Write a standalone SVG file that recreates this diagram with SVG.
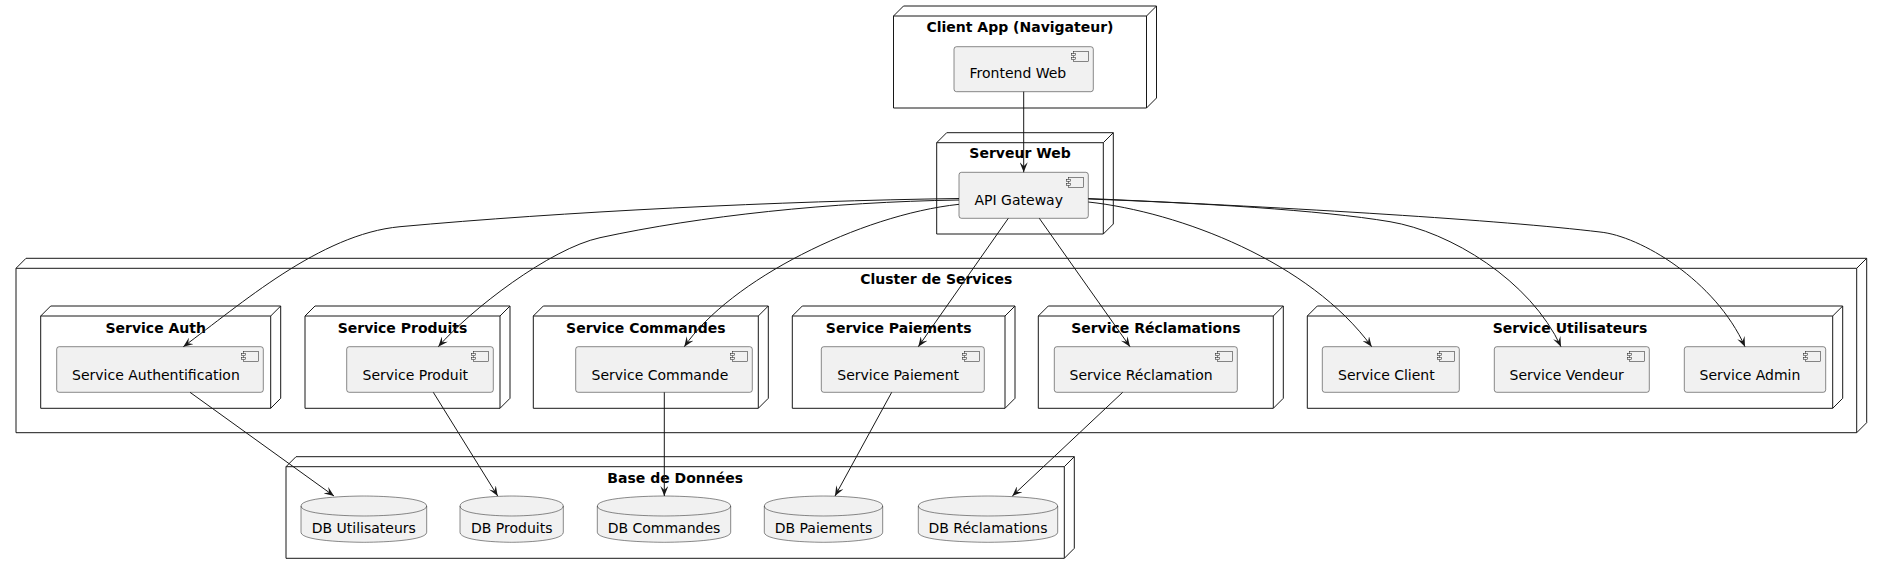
<svg xmlns="http://www.w3.org/2000/svg" width="1882" height="574" viewBox="0 0 1882 574">
<style>
.nd{fill:none;stroke:#181818;stroke-width:1}
.cmp{fill:#F1F1F1;stroke:#181818;stroke-width:0.5}
.ico{fill:#F1F1F1;stroke:#181818;stroke-width:0.5}
.t{font-family:"DejaVu Sans",sans-serif;font-size:14px;fill:#000}
.tb{font-family:"DejaVu Sans",sans-serif;font-size:14px;font-weight:bold;fill:#000;text-anchor:middle}
.tm{text-anchor:middle}
.ln{fill:none;stroke:#181818;stroke-width:1;marker-end:url(#ah)}
</style>
<defs>
<marker id="ah" viewBox="0 0 10 8" refX="10" refY="4" markerWidth="10" markerHeight="8" markerUnits="userSpaceOnUse" orient="auto">
<path d="M0,0 L10,4 L0,8 L4,4 Z" fill="#181818"/>
</marker>
<g id="icon">
<rect x="-20" y="5" width="15" height="10" class="ico"/>
<rect x="-22" y="7" width="4" height="2" class="ico"/>
<rect x="-22" y="11" width="4" height="2" class="ico"/>
</g>
</defs>
<rect width="1882" height="574" fill="#fff"/>

<g id="node-client">
<path class="nd" d="M893.5,16 L903.5,6 L1156.5,6 L1156.5,98 L1146.5,108 L893.5,108 Z M1146.5,16 L1156.5,6 M893.5,16 L1146.5,16 L1146.5,108"/>
<text class="tb" x="1020" y="32">Client App (Navigateur)</text>
</g>
<g id="frontend">
<rect class="cmp" x="954" y="46.7" width="139.3" height="45" rx="2.5"/>
<use href="#icon" x="1093.3" y="46.7"/>
<text class="t" x="969.5" y="78.3">Frontend Web</text>
</g>

<g id="node-serveur">
<path class="nd" d="M936.7,142.7 L946.7,132.7 L1113.3,132.7 L1113.3,224 L1103.3,234 L936.7,234 Z M1103.3,142.7 L1113.3,132.7 M936.7,142.7 L1103.3,142.7 L1103.3,234"/>
<text class="tb" x="1020" y="157.7">Serveur Web</text>
</g>
<g id="api">
<rect class="cmp" x="959" y="172.3" width="129.3" height="46" rx="2.5"/>
<use href="#icon" x="1088.3" y="172.3"/>
<text class="t" x="974.5" y="205">API Gateway</text>
</g>

<g id="node-cluster">
<path class="nd" d="M16,268.3 L26,258.3 L1866.7,258.3 L1866.7,422.7 L1856.7,432.7 L16,432.7 Z M1856.7,268.3 L1866.7,258.3 M16,268.3 L1856.7,268.3 L1856.7,432.7"/>
<text class="tb" x="936.3" y="284.3">Cluster de Services</text>
</g>

<g id="node-auth">
<path class="nd" d="M40.7,316 L50.7,306 L280.7,306 L280.7,398.3 L270.7,408.3 L40.7,408.3 Z M270.7,316 L280.7,306 M40.7,316 L270.7,316 L270.7,408.3"/>
<text class="tb" x="155.7" y="333.3">Service Auth</text>
</g>
<g id="svc-auth">
<rect class="cmp" x="56.7" y="346.7" width="206.6" height="45.6" rx="2.5"/>
<use href="#icon" x="263.3" y="346.7"/>
<text class="t" x="72" y="380">Service Authentification</text>
</g>

<g id="node-produits">
<path class="nd" d="M305,316 L315,306 L510,306 L510,398.3 L500,408.3 L305,408.3 Z M500,316 L510,306 M305,316 L500,316 L500,408.3"/>
<text class="tb" x="402.5" y="333.3">Service Produits</text>
</g>
<g id="svc-produit">
<rect class="cmp" x="346.7" y="346.7" width="146.6" height="45.6" rx="2.5"/>
<use href="#icon" x="493.3" y="346.7"/>
<text class="t" x="362.5" y="380">Service Produit</text>
</g>

<g id="node-commandes">
<path class="nd" d="M533.3,316 L543.3,306 L768.3,306 L768.3,398.3 L758.3,408.3 L533.3,408.3 Z M758.3,316 L768.3,306 M533.3,316 L758.3,316 L758.3,408.3"/>
<text class="tb" x="645.8" y="333.3">Service Commandes</text>
</g>
<g id="svc-commande">
<rect class="cmp" x="575.7" y="346.7" width="176.6" height="45.6" rx="2.5"/>
<use href="#icon" x="752.3" y="346.7"/>
<text class="t" x="591.5" y="380">Service Commande</text>
</g>

<g id="node-paiements">
<path class="nd" d="M792.3,316 L802.3,306 L1015,306 L1015,398.3 L1005,408.3 L792.3,408.3 Z M1005,316 L1015,306 M792.3,316 L1005,316 L1005,408.3"/>
<text class="tb" x="898.7" y="333.3">Service Paiements</text>
</g>
<g id="svc-paiement">
<rect class="cmp" x="821.3" y="346.7" width="163" height="45.6" rx="2.5"/>
<use href="#icon" x="984.3" y="346.7"/>
<text class="t" x="837.3" y="380">Service Paiement</text>
</g>

<g id="node-reclamations">
<path class="nd" d="M1038.3,316 L1048.3,306 L1283.3,306 L1283.3,398.3 L1273.3,408.3 L1038.3,408.3 Z M1273.3,316 L1283.3,306 M1038.3,316 L1273.3,316 L1273.3,408.3"/>
<text class="tb" x="1155.8" y="333.3">Service Réclamations</text>
</g>
<g id="svc-reclamation">
<rect class="cmp" x="1054.3" y="346.7" width="183" height="45.6" rx="2.5"/>
<use href="#icon" x="1237.3" y="346.7"/>
<text class="t" x="1069.5" y="380">Service Réclamation</text>
</g>

<g id="node-utilisateurs">
<path class="nd" d="M1307.3,316 L1317.3,306 L1842.7,306 L1842.7,398.3 L1832.7,408.3 L1307.3,408.3 Z M1832.7,316 L1842.7,306 M1307.3,316 L1832.7,316 L1832.7,408.3"/>
<text class="tb" x="1570" y="333.3">Service Utilisateurs</text>
</g>
<g id="svc-client">
<rect class="cmp" x="1322.3" y="346.7" width="137" height="45.6" rx="2.5"/>
<use href="#icon" x="1459.3" y="346.7"/>
<text class="t" x="1338" y="380">Service Client</text>
</g>
<g id="svc-vendeur">
<rect class="cmp" x="1494.3" y="346.7" width="155" height="45.6" rx="2.5"/>
<use href="#icon" x="1649.3" y="346.7"/>
<text class="t" x="1509.5" y="380">Service Vendeur</text>
</g>
<g id="svc-admin">
<rect class="cmp" x="1684.3" y="346.7" width="141.4" height="45.6" rx="2.5"/>
<use href="#icon" x="1825.7" y="346.7"/>
<text class="t" x="1699.5" y="380">Service Admin</text>
</g>

<g id="node-bdd">
<path class="nd" d="M286,466.7 L296,456.7 L1074.3,456.7 L1074.3,548.3 L1064.3,558.3 L286,558.3 Z M1064.3,466.7 L1074.3,456.7 M286,466.7 L1064.3,466.7 L1064.3,558.3"/>
<text class="tb" x="675.2" y="482.7">Base de Données</text>
</g>
<g id="db-utilisateurs">
<path class="cmp" d="M301,506 C301,496 363.8,496 363.8,496 C363.8,496 426.7,496 426.7,506 L426.7,532.3 C426.7,542.3 363.8,542.3 363.8,542.3 C363.8,542.3 301,542.3 301,532.3 Z"/>
<path class="cmp" fill="none" style="fill:none" d="M301,506 C301,516 363.8,516 363.8,516 C363.8,516 426.7,516 426.7,506"/>
<text class="t tm" x="363.8" y="533.3">DB Utilisateurs</text>
</g>
<g id="db-produits">
<path class="cmp" d="M460,506 C460,496 511.7,496 511.7,496 C511.7,496 563.3,496 563.3,506 L563.3,532.3 C563.3,542.3 511.7,542.3 511.7,542.3 C511.7,542.3 460,542.3 460,532.3 Z"/>
<path class="cmp" style="fill:none" d="M460,506 C460,516 511.7,516 511.7,516 C511.7,516 563.3,516 563.3,506"/>
<text class="t tm" x="511.7" y="533.3">DB Produits</text>
</g>
<g id="db-commandes">
<path class="cmp" d="M597.3,506 C597.3,496 664,496 664,496 C664,496 730.7,496 730.7,506 L730.7,532.3 C730.7,542.3 664,542.3 664,542.3 C664,542.3 597.3,542.3 597.3,532.3 Z"/>
<path class="cmp" style="fill:none" d="M597.3,506 C597.3,516 664,516 664,516 C664,516 730.7,516 730.7,506"/>
<text class="t tm" x="664" y="533.3">DB Commandes</text>
</g>
<g id="db-paiements">
<path class="cmp" d="M764.3,506 C764.3,496 823.5,496 823.5,496 C823.5,496 882.7,496 882.7,506 L882.7,532.3 C882.7,542.3 823.5,542.3 823.5,542.3 C823.5,542.3 764.3,542.3 764.3,532.3 Z"/>
<path class="cmp" style="fill:none" d="M764.3,506 C764.3,516 823.5,516 823.5,516 C823.5,516 882.7,516 882.7,506"/>
<text class="t tm" x="823.5" y="533.3">DB Paiements</text>
</g>
<g id="db-reclamations">
<path class="cmp" d="M918.3,506 C918.3,496 988,496 988,496 C988,496 1057.7,496 1057.7,506 L1057.7,532.3 C1057.7,542.3 988,542.3 988,542.3 C988,542.3 918.3,542.3 918.3,532.3 Z"/>
<path class="cmp" style="fill:none" d="M918.3,506 C918.3,516 988,516 988,516 C988,516 1057.7,516 1057.7,506"/>
<text class="t tm" x="988" y="533.3">DB Réclamations</text>
</g>

<g id="connectors">
<path class="ln" d="M1023.7,91.7 L1023.7,172.3"/>
<path class="ln" d="M959,198.5 C780,201 560,212 400,226.7 C320,234 240,305 183.3,346.7"/>
<path class="ln" d="M959,200 C830,202 700,216 600,237.7 C550,248.5 470,310 438.3,346.7"/>
<path class="ln" d="M959,204.3 C860,215 730,280 684.3,346.7"/>
<path class="ln" d="M1008.3,218.3 L918.3,346.7"/>
<path class="ln" d="M1039.3,218.3 L1130,346.7"/>
<path class="ln" d="M1088.3,202 C1180,212 1310,262 1371.7,346.7"/>
<path class="ln" d="M1088.3,199 C1200,203 1320,210 1390,221.7 C1450,231.7 1530,280 1561,346.7"/>
<path class="ln" d="M1088.3,198.5 C1300,208 1500,220 1600,232 C1640,236 1715,280 1745,346.7"/>
<path class="ln" d="M190,392.3 L334,496"/>
<path class="ln" d="M433.3,392.3 L497.7,496"/>
<path class="ln" d="M664.3,392.3 L664.3,496"/>
<path class="ln" d="M891.7,392.3 L835,496"/>
<path class="ln" d="M1122.7,392.3 L1012.3,496"/>
</g>
</svg>
